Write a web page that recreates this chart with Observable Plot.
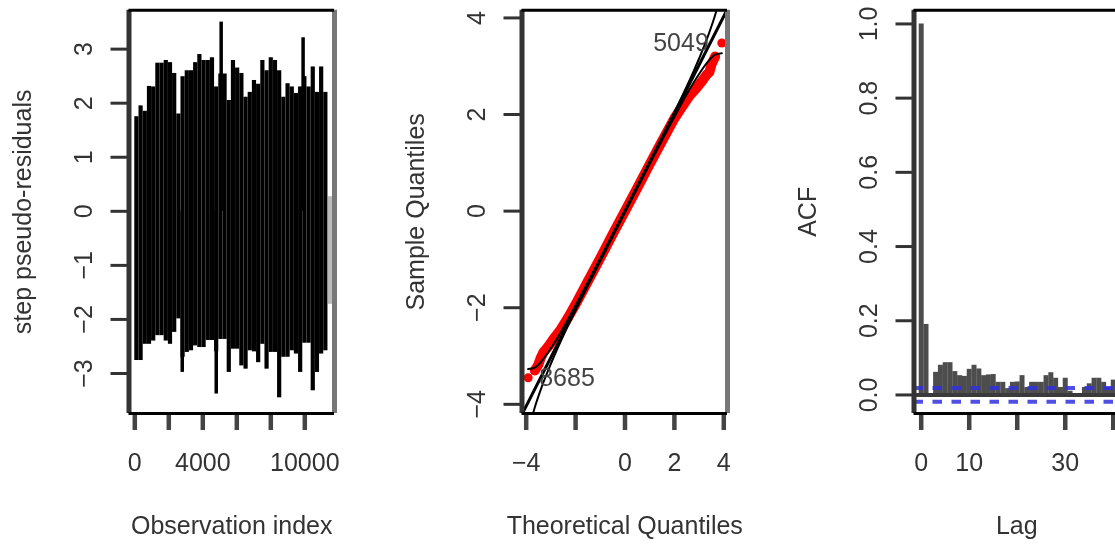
<!DOCTYPE html>
<html><head><meta charset="utf-8">
<script src="https://cdn.jsdelivr.net/npm/d3@7"></script>
<script src="https://cdn.jsdelivr.net/npm/@observablehq/plot@0.6"></script>
<style>
html,body{margin:0;padding:0;background:#fff;overflow:hidden;width:1115px;height:544px;}
#wrap{position:relative;width:1115px;height:544px;overflow:hidden;background:#fff;}
.panel{position:absolute;top:0;width:392px;height:544px;}
.panel svg{filter:blur(0.45px);max-width:none !important;width:392px;height:544px;}
</style></head><body><div id="wrap"></div>
<script>
// ---------- Panel 1: step pseudo-residuals (binned envelope) ----------
const obsBinWidth = 247;
const obsHigh = [1.75,1.95,1.85,2.31,2.3,2.74,2.74,2.79,2.75,2.55,1.8,2.49,2.6,2.6,2.75,2.9,2.79,2.79,2.84,2.3,2.54,2.54,2.05,2.79,2.65,2.55,2.11,2.2,2.42,2.35,2.79,2.6,2.84,2.79,2.6,2.11,2.36,2.3,2.18,2.3,2.49,2.3,2.67,2.2,2.67,2.2];
const obsLow = [-2.76,-2.76,-2.46,-2.46,-2.4,-2.3,-2.3,-2.4,-2.46,-2.24,-1.99,-2.7,-2.61,-2.58,-2.49,-2.52,-2.52,-2.39,-2.39,-2.6,-2.37,-2.37,-2.98,-2.55,-2.55,-2.86,-2.92,-2.58,-2.6,-2.8,-2.46,-2.92,-2.61,-2.61,-3.45,-2.7,-2.7,-2.58,-2.64,-2.98,-2.44,-2.44,-3.32,-2.98,-2.64,-2.58];
const obsSpikeIndex = [5080, 9900, 2790, 4790];
const obsSpikeValue = [3.5, 3.21, -2.98, -3.38];
const obsTailIndex = [11480];
const obsTailHigh = [0.27];
const obsTailLow = [-1.72];
const p1XTicks = [0, 2000, 4000, 6000, 8000, 10000];
const p1XLabelValues = [0, 4000, 10000];
const p1XLabels = ["0", "4000", "10000"];
const p1YTicks = [-3, -2, -1, 0, 1, 2, 3];
const p1YLabels = ["\u22123", "\u22122", "\u22121", "0", "1", "2", "3"];

// ---------- Panel 2: normal QQ plot ----------
const qqTheo = [-3.92,-3.65,-3.51,-3.42,-3.3,-3.1,-2.9,-2.6,-2.3,-2.0,-1.5,-1.0,-0.5,0,0.5,1.0,1.5,2.0,2.3,2.6,2.9,3.1,3.3,3.42,3.51,3.65,3.92];
const qqSample = [-3.45,-3.3,-3.18,-3.05,-2.92,-2.8,-2.65,-2.45,-2.2,-1.93,-1.45,-0.97,-0.48,0.0,0.48,0.97,1.45,1.92,2.15,2.38,2.55,2.68,2.82,2.88,3.05,3.2,3.48];
const qqLineX = [-4.34, 4.34];
const qqLineY = [-4.38, 4.38];
const envTheo = [-3.92,-3.65,-3.4,-3.0,-2.5,-2.0,0,2.0,2.5,3.0,3.4,3.65,3.92];
const envUpper = [-3.27,-3.24,-3.12,-2.84,-2.42,-1.95,0.02,2.05,2.58,3.16,3.68,4.06,4.57];
const envLower = [-4.57,-4.06,-3.68,-3.16,-2.58,-2.05,-0.02,1.95,2.42,2.84,3.12,3.24,3.27];
const qqLabelText = ["5049", "8685"];
const qqLabelTheo = [3.92, -3.92];
const qqLabelSample = [3.48, -3.45];
const p2XTicks = [-4, -2, 0, 2, 4];
const p2XLabelValues = [-4, 0, 2, 4];
const p2XLabels = ["\u22124", "0", "2", "4"];
const p2YTicks = [-4, -2, 0, 2, 4];
const p2YLabels = ["\u22124", "\u22122", "0", "2", "4"];

// ---------- Panel 3: ACF ----------
const acfLag = [0,1,2,3,4,5,6,7,8,9,10,11,12,13,14,15,16,17,18,19,20,21,22,23,24,25,26,27,28,29,30,31,32,33,34,35,36,37,38,39,40];
const acfValue = [1.0,0.19,-0.005,0.061,0.08,0.087,0.087,0.063,0.052,0.05,0.069,0.08,0.07,0.052,0.054,0.055,0.034,0.034,0.017,0.034,0.035,0.052,0.02,0.034,0.034,0.034,0.052,0.06,0.045,0.02,0.045,0.01,-0.005,-0.005,0.02,0.03,0.045,0.045,0.034,0.02,0.04];
const acfClim = [0.0185, -0.0185];
const p3XTicks = [0, 10, 20, 30, 40];
const p3XLabelValues = [0, 10, 30];
const p3XLabels = ["0", "10", "30"];
const p3YTicks = [0, 0.2, 0.4, 0.6, 0.8, 1.0];
const p3YLabels = ["0.0", "0.2", "0.4", "0.6", "0.8", "1.0"];

// ---------- layout helpers ----------
const FONT = '"Liberation Sans", Arial, Helvetica, sans-serif';
const TXT = "#333";
function baseOpts(xDom, yDom, marks) {
  return {
    width: 392, height: 544,
    marginLeft: 128.5, marginRight: 58, marginTop: 9.7, marginBottom: 131,
    x: {domain: xDom, axis: null},
    y: {domain: yDom, axis: null},
    style: {fontFamily: FONT, fontSize: "25px", background: "white", overflow: "visible"},
    marks
  };
}
function frameAndAxes(xDom, yDom, xTicks, yTicks, xLabVals, xLabs, yLabs, xTitle, yTitle) {
  return [
    Plot.axisX({ticks: xTicks, tickSize: 17, fill: "none", stroke: "#444", strokeWidth: 4.5, label: null}),
    Plot.axisY({ticks: yTicks, tickSize: 18, fill: "none", stroke: "#333", strokeWidth: 3, label: null}),
    Plot.ruleX([xDom[0]], {stroke: "#333", strokeWidth: 5}),
    Plot.ruleX([xDom[1]], {stroke: "#777", strokeWidth: 5}),
    Plot.ruleY([yDom[1]], {stroke: "black", strokeWidth: 3}),
    Plot.ruleY([yDom[0]], {stroke: "black", strokeWidth: 3}),
    Plot.text(xLabVals, {x: d => d, text: (d, i) => xLabs[i], frameAnchor: "bottom", dy: 49, textAnchor: "middle", lineAnchor: "middle", fill: TXT}),
    Plot.text(yTicks, {y: d => d, text: (d, i) => yLabs[i], frameAnchor: "left", dx: -45.5, rotate: -90, textAnchor: "middle", lineAnchor: "middle", fill: TXT}),
    Plot.text([xTitle], {text: d => d, frameAnchor: "bottom", dy: 112, textAnchor: "middle", lineAnchor: "middle", fill: TXT}),
    Plot.text([yTitle], {text: d => d, frameAnchor: "left", dx: -106, rotate: -90, textAnchor: "middle", lineAnchor: "middle", fill: TXT})
  ];
}
function mount(svg, left) {
  const div = document.createElement("div");
  div.className = "panel";
  div.style.left = left + "px";
  div.appendChild(svg);
  document.getElementById("wrap").appendChild(div);
}

// ---------- Panel 1 ----------
const p1X = [-341, 11747], p1Y = [-3.74, 3.72];
const bins = obsHigh.map((h, i) => ({i, high: h, low: obsLow[i]}));
const spikes = obsSpikeIndex.map((x, i) => ({x, v: obsSpikeValue[i]}));
const tail = obsTailIndex.map((x, i) => ({x, hi: obsTailHigh[i], lo: obsTailLow[i]}));
mount(Plot.plot(baseOpts(p1X, p1Y, [
  Plot.rect(bins, {x1: d => d.i * obsBinWidth, x2: d => (d.i + 1) * obsBinWidth, y1: "low", y2: "high", fill: "black"}),
  Plot.ruleX(spikes, {x: "x", y1: 0, y2: "v", stroke: "black", strokeWidth: 3.5}),
  Plot.ruleX(tail, {x: "x", y1: "lo", y2: "hi", stroke: "#bbb", strokeWidth: 4}),
  ...frameAndAxes(p1X, p1Y, p1XTicks, p1YTicks, p1XLabelValues, p1XLabels, p1YLabels, "Observation index", "step pseudo-residuals")
])), 0);

// ---------- Panel 2 ----------
const p2X = [-4.17, 4.15], p2Y = [-4.19, 4.16];
const qq = qqTheo.map((t, i) => ({t, s: qqSample[i]}));
const env = envTheo.map((t, i) => ({t, u: envUpper[i], l: envLower[i]}));
const qline = qqLineX.map((x, i) => ({x, y: qqLineY[i]}));
const qlab = qqLabelText.map((text, i) => ({text, t: qqLabelTheo[i], s: qqLabelSample[i]}));
mount(Plot.plot(baseOpts(p2X, p2Y, [
  Plot.line(qq.slice(1, -1), {x: "t", y: "s", stroke: "red", strokeWidth: 10, strokeLinecap: "round", clip: true}),
  Plot.dot(qq, {x: "t", y: "s", r: 4.5, fill: "red", clip: true}),
  Plot.line(env, {x: "t", y: "u", stroke: "black", strokeWidth: 2, clip: true, curve: "monotone-x"}),
  Plot.line(env, {x: "t", y: "l", stroke: "black", strokeWidth: 2, clip: true, curve: "monotone-x"}),
  Plot.line(qline, {x: "x", y: "y", stroke: "black", strokeWidth: 3, clip: true}),
  Plot.text(qlab.slice(0, 1), {x: "t", y: "s", text: "text", dx: -13, textAnchor: "end", fill: "#444"}),
  Plot.text(qlab.slice(1), {x: "t", y: "s", text: "text", dx: 11, textAnchor: "start", fill: "#444"}),
  ...frameAndAxes(p2X, p2Y, p2XTicks, p2YTicks, p2XLabelValues, p2XLabels, p2YLabels, "Theoretical Quantiles", "Sample Quantiles")
])), 392.5);

// ---------- Panel 3 ----------
const p3X = [-1.5, 41.3], p3Y = [-0.05, 1.037];
const acf = acfLag.map((lag, i) => ({lag, v: acfValue[i]}));
mount(Plot.plot(baseOpts(p3X, p3Y, [
  Plot.ruleX(acf, {x: "lag", y1: 0, y2: "v", stroke: "#4d4d4d", strokeWidth: 5}),
  Plot.ruleY([0], {stroke: "#3a3a3a", strokeWidth: 4}),
  Plot.ruleY(acfClim, {stroke: "#3030e0", strokeWidth: 4, strokeOpacity: 0.85, strokeDasharray: "9.5,9.5"}),
  ...frameAndAxes(p3X, p3Y, p3XTicks, p3YTicks, p3XLabelValues, p3XLabels, p3YLabels, "Lag", "ACF")
])), 785);
</script></body></html>
